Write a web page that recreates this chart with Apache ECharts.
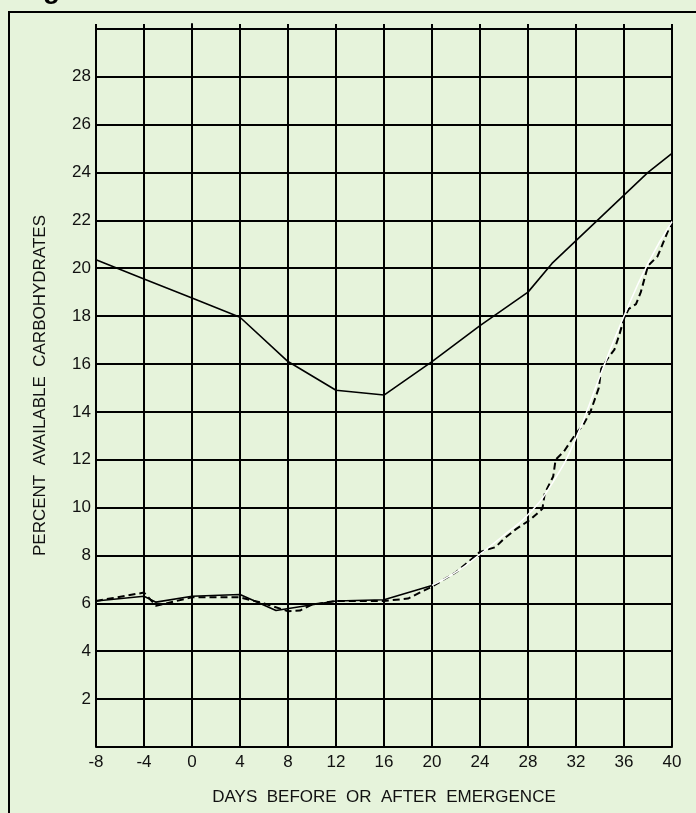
<!DOCTYPE html>
<html>
<head>
<meta charset="utf-8">
<script src="https://cdn.jsdelivr.net/npm/echarts@6/dist/echarts.min.js"></script>
<style>
  html, body { margin: 0; padding: 0; background: #e6f3db; }
  #chart { width: 696px; height: 813px; }
</style>
</head>
<body>
<div id="chart"></div>
<script>
// upper solid curve
const upperDays = [-8, -4, 0, 4, 8, 12, 16, 20, 24, 28, 30, 32, 34, 36, 38, 40];
const upperValues = [20.35, 19.55, 18.75, 17.95, 16.1, 14.9, 14.7, 16.1, 17.6, 19.0, 20.2, 21.15, 22.1, 23.05, 24.0, 24.8];

// lower solid curve (black part, before day 20)
const lowerDays = [-8, -4, -3, 0, 4, 7, 12, 16, 20];
const lowerValues = [6.1, 6.3, 6.05, 6.3, 6.37, 5.7, 6.1, 6.15, 6.75];

// lower curve continued (white part)
const whiteDays = [20, 22, 24, 26, 28, 30, 32, 34, 36, 38, 40];
const whiteValues = [6.75, 7.3, 8.05, 8.85, 9.7, 11.0, 12.9, 15.5, 18.0, 20.2, 21.95];

// dashed curve
const dashDays = [-8, -4, -3, 0, 4, 6, 8, 9, 10, 12, 16, 18, 20, 22, 24, 25.3, 26, 27, 28.2, 29.2, 29.4,
  30.1, 30.3, 31, 32, 32.6, 33.2, 33.9, 34.1, 34.6, 35.2, 35.6, 36, 36.4, 37, 37.4, 38, 38.8, 39.5, 40];
const dashValues = [6.1, 6.45, 5.9, 6.25, 6.25, 6.0, 5.67, 5.7, 5.95, 6.1, 6.1, 6.2, 6.7, 7.3, 8.15, 8.35, 8.7, 9.1, 9.5, 9.95, 10.6,
  11.3, 12.0, 12.35, 13.1, 13.45, 14.0, 15.0, 15.8, 16.2, 16.6, 17.2, 17.9, 18.3, 18.5, 19.0, 20.1, 20.5, 21.35, 21.95];

const xTitle = 'DAYS  BEFORE  OR  AFTER  EMERGENCE';
const yTitle = 'PERCENT  AVAILABLE  CARBOHYDRATES';

function pairs(xs, ys) {
  return xs.map((x, i) => [x, ys[i]]);
}

const chart = echarts.init(document.getElementById('chart'));
const font = 'Liberation Sans, Arial, sans-serif';

chart.setOption({
  backgroundColor: '#e6f3db',
  animation: false,
  grid: { left: 96, right: 24, top: 24, bottom: 66 },
  graphic: [
    {
      type: 'polyline',
      shape: { points: [[9, 813], [9, 12], [696, 12]] },
      style: { stroke: '#000', lineWidth: 2, fill: null }
    },
    {
      type: 'text',
      left: 18, top: -24,
      style: { text: 'Figure', font: 'bold 28px ' + font, fill: '#000' }
    }
  ],
  xAxis: {
    type: 'value',
    min: -8, max: 40, interval: 4,
    name: xTitle,
    nameLocation: 'middle',
    nameGap: 42,
    nameTextStyle: { color: '#111', fontSize: 17, fontFamily: font },
    axisLine: { lineStyle: { color: '#000', width: 2 } },
    axisTick: { show: false },
    axisLabel: { color: '#111', fontSize: 17, fontFamily: font, margin: 7 },
    splitLine: { show: true, lineStyle: { color: '#000', width: 2 } }
  },
  yAxis: {
    type: 'value',
    min: 0, max: 30.2, interval: 2,
    name: yTitle,
    nameLocation: 'middle',
    nameGap: 47,
    nameTextStyle: { color: '#111', fontSize: 17, fontFamily: font },
    axisLine: { show: true, lineStyle: { color: '#000', width: 2 } },
    axisTick: { show: false },
    axisLabel: {
      color: '#111', fontSize: 17, fontFamily: font, margin: 5,
      formatter: v => (v > 0 && v < 29 && v % 2 === 0) ? String(v) : ''
    },
    splitLine: { show: true, showMaxLine: false, lineStyle: { color: '#000', width: 2 } }
  },
  series: [
    {
      type: 'line', data: pairs(upperDays, upperValues), showSymbol: false,
      lineStyle: { color: '#000', width: 1.6 }, z: 3
    },
    {
      type: 'line', data: pairs(lowerDays, lowerValues), showSymbol: false,
      lineStyle: { color: '#000', width: 1.6 }, z: 3
    },
    {
      type: 'line', data: pairs(dashDays, dashValues), showSymbol: false,
      lineStyle: { color: '#000', width: 2, type: [7, 4] }, z: 4
    },
    {
      type: 'line', data: pairs(whiteDays, whiteValues), showSymbol: false, smooth: true,
      lineStyle: { color: '#fff', width: 1.5 }, z: 5
    }
  ]
});
</script>
</body>
</html>
